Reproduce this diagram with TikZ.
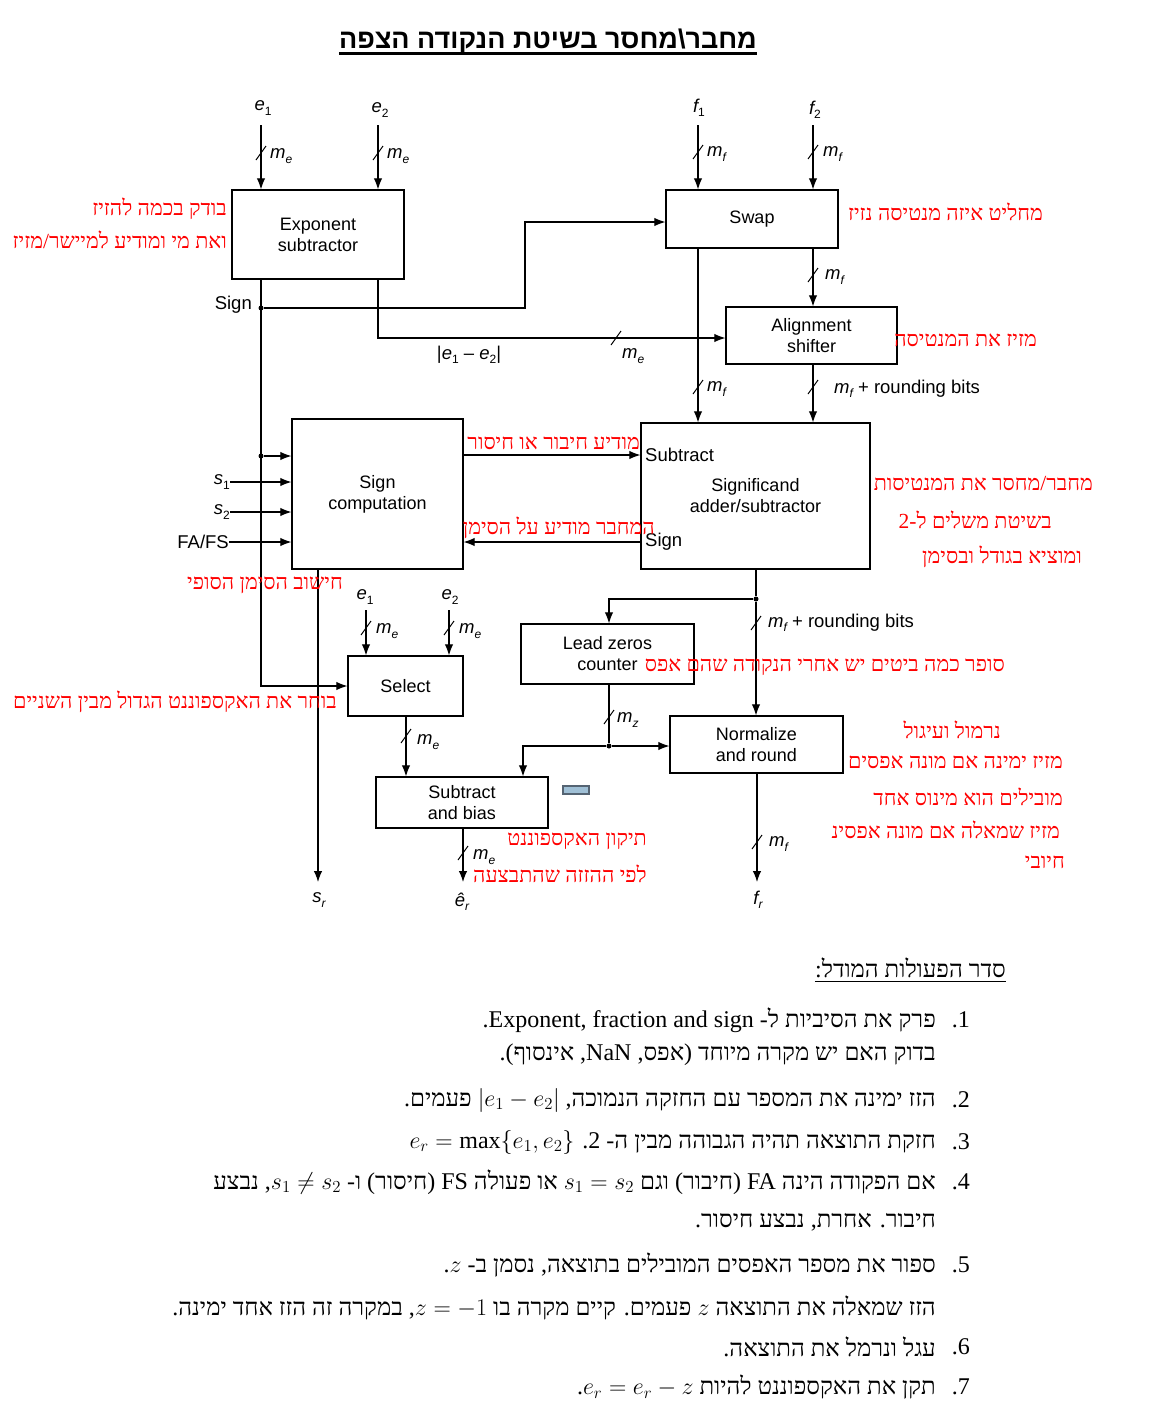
\documentclass[tikz,border=0pt]{standalone}
\usepackage{fix-cm}
\usepackage{fontspec}
\setmainfont{Liberation Serif}
\newfontfamily\dsans{Liberation Sans}
\newfontfamily\hebsans[Script=Hebrew]{Liberation Sans}
\newfontfamily\hebserif[Script=Hebrew]{Liberation Serif}
\usetikzlibrary{arrows.meta,calc}
\TeXXeTstate=1
\definecolor{hred}{RGB}{255,0,0}
\definecolor{tagfill}{RGB}{160,192,214}
\definecolor{tagline}{RGB}{85,100,115}
\newcommand\vv[2]{{\itshape #1}\raisebox{-0.45ex}{\fontsize{12}{12}\selectfont #2}}
\newcommand\RL[1]{\beginR #1\endR}
\newcommand\LR[1]{\beginL #1\endL}
\tikzset{
 blk/.style={draw, line width=1.3pt, inner sep=0, align=center, font=\dsans\fontsize{18}{21}\selectfont},
 arr/.style={line width=1.1pt, -{Latex[length=11pt,width=8.5pt]}},
 ln/.style={line width=1.1pt},
 lab/.style={inner sep=0, font=\dsans\fontsize{18.5}{20}\selectfont},
 note/.style={inner sep=0, text=hred, font=\hebserif\fontsize{21.5}{23}\selectfont},
 lst/.style={inner sep=0, anchor=east, font=\hebserif\fontsize{24}{26}\selectfont},
 dot/.style={circle, fill, inner sep=0, minimum size=5pt},
 bus/.pic={\draw[line width=1pt] (-5,7) -- (5,-7);}
}
\begin{document}
\begin{tikzpicture}[x=1pt,y=-1pt]
\fill[white] (0,0) rectangle (1155,1425);
\useasboundingbox (0,0) rectangle (1155,1425);

% title
\node[inner sep=0, font=\hebsans\bfseries\fontsize{27}{29}\selectfont] (title) at (548,41) {\RL{מחבר\textbackslash מחסר בשיטת הנקודה הצפה}};
\draw[line width=2.6pt] ([yshift=-5pt]title.base west) -- ([yshift=-5pt]title.base east);

% blocks
\node[blk, minimum width=172pt, minimum height=89pt] (exp) at (318,234.5) {Exponent\\subtractor};
\node[blk, minimum width=172pt, minimum height=58pt] (swap) at (752,219) {Swap};
\node[blk, minimum width=171pt, minimum height=57pt] (align) at (811.5,335.5) {Alignment\\shifter};
\node[blk, minimum width=171pt, minimum height=150pt] (sigcomp) at (377.5,494) {Sign\\computation};
\node[blk, minimum width=229pt, minimum height=146pt] (sigadd) at (755.5,496) {Significand\\adder/subtractor};
\node[blk, minimum width=173pt, minimum height=60pt] (lzc) at (607.5,654) {Lead zeros\\counter};
\node[blk, minimum width=115pt, minimum height=60pt] (select) at (405.5,686) {Select};
\node[blk, minimum width=173pt, minimum height=57pt] (norm) at (756.5,744.5) {Normalize\\and round};
\node[blk, minimum width=172pt, minimum height=51pt] (bias) at (462,802.5) {Subtract\\and bias};

% top inputs
\node[lab] (e1) at (263,108) {\vv{e}{1}};
\node[lab] (e2) at (380,110) {\vv{e}{2}};
\node[lab] (f1) at (699,108) {\vv{f}{1}};
\node[lab] (f2) at (815,110) {\vv{f}{2}};
\coordinate (e1t) at (261,125);
\coordinate (e2t) at (378,125);
\coordinate (f1t) at (698,125);
\coordinate (f2t) at (813,125);
\draw[arr] (e1t) -- (e1t |- exp.north);
\draw[arr] (e2t) -- (e2t |- exp.north);
\draw[arr] (f1t) -- (f1t |- swap.north);
\draw[arr] (f2t) -- (f2t |- swap.north);
\pic at (261,153) {bus}; \node[lab, anchor=west] at (270,156) {\vv{m}{\itshape e}};
\pic at (378,153) {bus}; \node[lab, anchor=west] at (387,156) {\vv{m}{\itshape e}};
\pic at (698,152) {bus}; \node[lab, anchor=west] at (707,154) {\vv{m}{\itshape f}};
\pic at (813,152) {bus}; \node[lab, anchor=west] at (823,154) {\vv{m}{\itshape f}};

% sign line
\node[dot] (d1) at (261,308) {};
\node[lab, anchor=east] (signlab) at (252,305) {Sign};
\draw[arr] (d1 |- exp.south) -- (d1 |- select.west) -- (select.west);
\coordinate (b1) at (525,308);
\coordinate (b2) at (525,222);
\draw[arr] (d1) -- (b1) -- (b2) -- (b2 -| swap.west);

% exponent difference
\coordinate (b3) at (378,338);
\draw[arr] (b3 |- exp.south) -- (b3) -- (b3 -| align.west);
\node[lab] (diff) at (469,355) {|\vv{e}{1} – \vv{e}{2}|};
\pic at (616,338) {bus}; \node[lab, anchor=west] at (622,356) {\vv{m}{\itshape e}};

% swap outputs
\coordinate (fa) at (698,0);
\coordinate (fb) at (813,0);
\draw[arr] (fa |- swap.south) -- (fa |- sigadd.north);
\draw[arr] (fb |- swap.south) -- (fb |- align.north);
\draw[arr] (fb |- align.south) -- (fb |- sigadd.north);
\pic at (813,275) {bus}; \node[lab, anchor=west] at (825,277) {\vv{m}{\itshape f}};
\pic at (698,387) {bus}; \node[lab, anchor=west] at (707,389) {\vv{m}{\itshape f}};
\pic at (813,387) {bus}; \node[lab, anchor=west] at (834,389) {\vv{m}{\itshape f} + rounding bits};

% sign computation inputs
\node[dot] (d2) at (261,456) {};
\draw[arr] (d2) -- (d2 -| sigcomp.west);
\node[lab, anchor=east] (s1) at (230,482) {\vv{s}{1}};
\node[lab, anchor=east] (s2) at (230,512) {\vv{s}{2}};
\node[lab, anchor=east] (fafs) at (229,542) {FA/FS};
\draw[arr] (s1.east) -- (s1.east -| sigcomp.west);
\draw[arr] (s2.east) -- (s2.east -| sigcomp.west);
\draw[arr] (fafs.east) -- (fafs.east -| sigcomp.west);

% sign comp <-> significand adder
\coordinate (ysub) at (0,455);
\coordinate (ysign) at (0,542);
\draw[arr] (sigcomp.east |- ysub) -- (sigadd.west |- ysub);
\draw[arr] (sigadd.west |- ysign) -- (sigcomp.east |- ysign);
\node[lab, anchor=west] at (645,455) {Subtract};
\node[lab, anchor=west] at (645,542) {Sign};

% outputs row
\coordinate (ybot) at (0,882);
\coordinate (xsr) at (318,0);
\draw[arr] (xsr |- sigcomp.south) -- (xsr |- ybot);
\node[lab] (sr) at (319,900) {\vv{s}{\itshape r}};

% significand path
\node[dot] (d3) at (756,599) {};
\draw[ln] (d3 |- sigadd.south) -- (d3);
\draw[arr] (d3) -- (d3 |- norm.north);
\pic at (756,623) {bus}; \node[lab, anchor=west] at (768,623) {\vv{m}{\itshape f} + rounding bits};
\coordinate (xlz) at (609,0);
\draw[arr] (d3) -- (xlz |- d3) -- (xlz |- lzc.north);
\node[dot] (d4) at (609,746) {};
\draw[ln] (xlz |- lzc.south) -- (d4);
\pic at (609,717) {bus}; \node[lab, anchor=west] at (617,720) {\vv{m}{\itshape z}};
\draw[arr] (d4) -- (d4 -| norm.west);
\coordinate (xb) at (523,0);
\draw[arr] (d4) -- (xb |- d4) -- (xb |- bias.north);

% select inputs/outputs
\node[lab] (e1b) at (365,597) {\vv{e}{1}};
\node[lab] (e2b) at (450,597) {\vv{e}{2}};
\coordinate (e1bt) at (366,610);
\coordinate (e2bt) at (449,610);
\draw[arr] (e1bt) -- (e1bt |- select.north);
\draw[arr] (e2bt) -- (e2bt |- select.north);
\pic at (366,628) {bus}; \node[lab, anchor=west] at (376,631) {\vv{m}{\itshape e}};
\pic at (449,628) {bus}; \node[lab, anchor=west] at (459,631) {\vv{m}{\itshape e}};
\coordinate (xsel) at (406,0);
\draw[arr] (xsel |- select.south) -- (xsel |- bias.north);
\pic at (406,736) {bus}; \node[lab, anchor=west] at (417,742) {\vv{m}{\itshape e}};

% bias & normalize outputs
\coordinate (xe) at (463,0);
\draw[arr] (xe |- bias.south) -- (xe |- ybot);
\pic at (463,853) {bus}; \node[lab, anchor=west] at (473,857) {\vv{m}{\itshape e}};
\node[lab] (er) at (462,902) {\vv{ê}{\itshape r}};
\coordinate (xf) at (757,0);
\draw[arr] (xf |- norm.south) -- (xf |- ybot);
\pic at (757,842) {bus}; \node[lab, anchor=west] at (769,844) {\vv{m}{\itshape f}};
\node[lab] (fr) at (758,900) {\vv{f}{\itshape r}};

% small tag
\draw[tagline, fill=tagfill, line width=2pt] (563,786) rectangle (589,794);

% red notes
\node[note, anchor=east] (r1) at (227,209) {\RL{בודק בכמה להזיז}};
\node[note, anchor=east] (r2) at (227,240) {\RL{ואת מי ומודיע למיישר/מזיז}};
\node[note, anchor=east] (r3) at (1043,212) {\RL{מחליט איזה מנטיסה נזיז}};
\node[note, anchor=east] (r4) at (1037,340) {\RL{מזיז את המנטיסה}};
\node[note, anchor=east] (r5) at (640,443) {\RL{מודיע חיבור או חיסור}};
\node[note, anchor=east] (r6) at (655,528) {\RL{המחבר מודיע על הסימן}};
\node[note, anchor=east] (r7) at (1093,484) {\RL{מחבר/מחסר את המנטיסות}};
\node[note, anchor=east] (r8) at (1052,520) {\RL{בשיטת משלים ל-2}};
\node[note, anchor=east] (r9) at (1082,557) {\RL{ומוציא בגודל ובסימן}};
\node[note, anchor=east] (r10) at (343,585) {\RL{חישוב הסימן הסופי}};
\node[note, anchor=east] (r11) at (337,702) {\RL{בוחר את האקספוננט הגדול מבין השניים}};
\node[note, anchor=east] (r12) at (1005,667) {\RL{סופר כמה ביטים יש אחרי הנקודה שהם אפס}};
\node[note, anchor=east] (r13) at (1001,730) {\RL{נרמול ועיגול}};
\node[note, anchor=east] (r14) at (1063,762) {\RL{מזיז ימינה אם מונה אפסים}};
\node[note, anchor=east] (r15) at (1063,797) {\RL{מובילים הוא מינוס אחד}};
\node[note, anchor=east] (r16) at (1060,830) {\RL{מזיז שמאלה אם מונה אפסינ}};
\node[note, anchor=east] (r17) at (1065,862) {\RL{חיובי}};
\node[note, anchor=east] (r18) at (647,841) {\RL{תיקון האקספוננט}};
\node[note, anchor=east] (r19) at (647,874) {\RL{לפי ההזזה שהתבצעה}};

% list
\node[lst] (hd) at (1006,968) {\RL{סדר הפעולות המודל:}};
\draw[line width=1pt] ([yshift=-4pt]hd.base west) -- ([yshift=-4pt]hd.base east);
\node[lst] (n1) at (970,1020) {1.};
\node[lst] (l1) at (936,1020) {\RL{פרק את הסיביות ל- \LR{Exponent, fraction and sign}.}};
\node[lst] (l1b) at (936,1055) {\RL{בדוק האם יש מקרה מיוחד (אפס, \LR{NaN}, אינסוף).}};
\node[lst] (n2) at (970,1100) {2.};
\node[lst] (l2) at (936,1100) {\RL{הזז ימינה את המספר עם החזקה הנמוכה, \LR{$|e_1-e_2|$} פעמים.}};
\node[lst] (n3) at (970,1142) {3.};
\node[lst] (l3) at (936,1142) {\RL{חזקת התוצאה תהיה הגבוהה מבין ה- 2. \LR{$e_r=\max\{e_1,e_2\}$}}};
\node[lst] (n4) at (970,1182) {4.};
\node[lst] (l4) at (936,1182) {\RL{אם הפקודה הינה \LR{FA} (חיבור) וגם \LR{$s_1=s_2$} או פעולה \LR{FS} (חיסור) ו- \LR{$s_1\neq s_2$}, נבצע}};
\node[lst] (l4b) at (936,1222) {\RL{חיבור. אחרת, נבצע חיסור.}};
\node[lst] (n5) at (970,1265) {5.};
\node[lst] (l5) at (936,1265) {\RL{ספור את מספר האפסים המובילים בתוצאה, נסמן ב- \LR{$z$}.}};
\node[lst] (l5b) at (936,1308) {\RL{הזז שמאלה את התוצאה \LR{$z$} פעמים. קיים מקרה בו \LR{$z=-1$}, במקרה זה הזז אחד ימינה.}};
\node[lst] (n6) at (970,1347) {6.};
\node[lst] (l6) at (936,1347) {\RL{עגל ונרמל את התוצאה.}};
\node[lst] (n7) at (970,1387) {7.};
\node[lst] (l7) at (936,1387) {\RL{תקן את האקספוננט להיות \LR{$e_r=e_r-z$}.}};
\end{tikzpicture}
\end{document}
